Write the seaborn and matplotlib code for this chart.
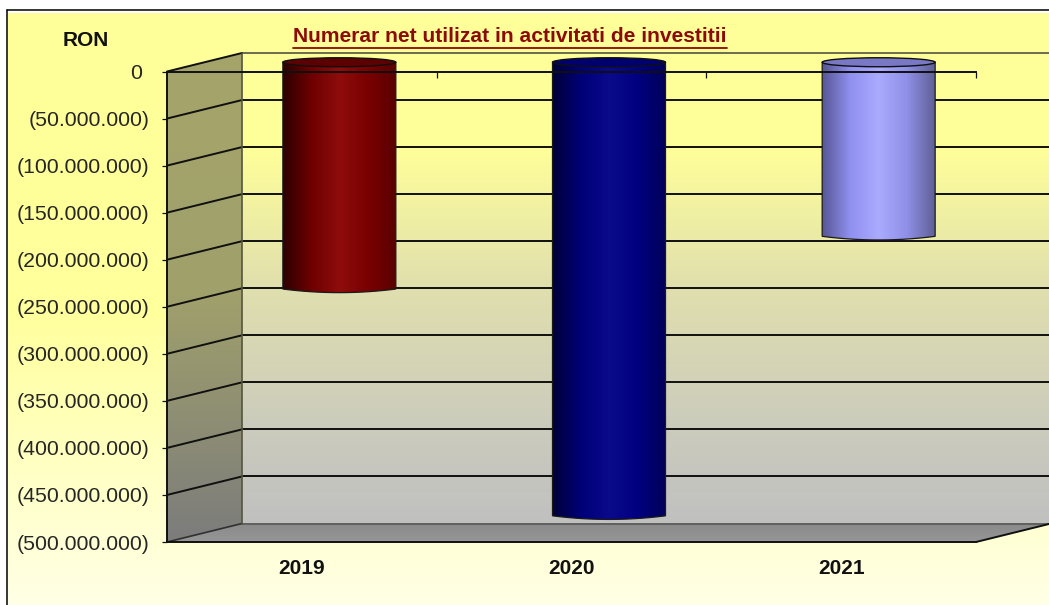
import numpy as np
import pandas as pd
import seaborn as sns
import matplotlib.pyplot as plt
from matplotlib.colors import LinearSegmentedColormap
from matplotlib.lines import Line2D
from matplotlib.patches import Ellipse, PathPatch, Polygon
from matplotlib.path import Path

years = ["2019", "2020", "2021"]
values = [-241000000, -482000000, -185000000]
y_ticks = [0, -50000000, -100000000, -150000000, -200000000, -250000000,
           -300000000, -350000000, -400000000, -450000000, -500000000]
y_labels = ["0 ", "(50.000.000)", "(100.000.000)", "(150.000.000)", "(200.000.000)",
            "(250.000.000)", "(300.000.000)", "(350.000.000)", "(400.000.000)",
            "(450.000.000)", "(500.000.000)"]
title = "Numerar net utilizat in activitati de investitii"
unit = "RON"

bar_colors = ["#8a0a0a", "#0a0a8c", "#a8a8ff"]
shades = [["#2c0000", "#6e0000", "#8f0c0c", "#7a0000", "#5a0000"],
          ["#000038", "#000078", "#0a0a8c", "#000080", "#000058"],
          ["#565696", "#9090f0", "#aaaaff", "#9090e8", "#606098"]]
lids = ["#5c0000", "#00006e", "#7878c4"]

# pixel sizes of the picture, the axes box sits on the front plane of the 3d box
W, H = 1049, 605
X0, X1, Y0, Y1 = 167, 976, 71.5, 542
# depth of the box, in data units
DX = 75 / ((X1 - X0) / 3)
DY = 18.5 / ((Y1 - Y0) / 500000000)
ELL = 4.5 / ((Y1 - Y0) / 500000000)

sns.set_theme(style="white")
plt.rcParams["font.family"] = ["Liberation Sans", "DejaVu Sans"]

fig = plt.figure(figsize=(W / 100, H / 100), dpi=100, facecolor="white")

# chart area background
bg = fig.add_axes([8 / W, 0, 1 - 8 / W, 1 - 13 / H])
bg.axis("off")
cmap = LinearSegmentedColormap.from_list("bg", ["#ffff99", "#ffff9c", "#ffffe6"])
bg.imshow(np.linspace(0, 1, 256).reshape(-1, 1), cmap=cmap, aspect="auto")
fig.add_artist(Line2D([6.5 / W, 6.5 / W], [0, 1 - 9.5 / H], color="black", lw=1.1))
fig.add_artist(Line2D([6.5 / W, 1], [1 - 9.5 / H, 1 - 9.5 / H], color="black", lw=1.1))

ax = fig.add_axes([X0 / W, 1 - Y1 / H, (X1 - X0) / W, (Y1 - Y0) / H])
ax.patch.set_visible(False)
df = pd.DataFrame({"year": years, "value": values})
sns.barplot(data=df, x="year", y="value", hue="year", palette=bar_colors, width=113 / ((X1 - X0) / 3),
            saturation=1, legend=False, ax=ax, zorder=1.5)

left, right = -0.5, 2.5
low, high = y_ticks[-1], y_ticks[0]


def fill(corners, stops, z):
    # gradient image clipped to a polygon
    corners = np.array(corners)
    grad = np.linspace(0, 1, 256).reshape(-1, 1)
    c = LinearSegmentedColormap.from_list("g", stops)
    extent = [corners[:, 0].min(), corners[:, 0].max(), corners[:, 1].min(), corners[:, 1].max()]
    im = ax.imshow(grad, cmap=c, extent=extent, aspect="auto", origin="upper", zorder=z)
    clip = Polygon(corners, closed=True, fc="none", ec="none", transform=ax.transData, clip_on=False)
    ax.add_patch(clip)
    im.set_clip_path(clip)
    im.set_clip_box(fig.bbox)


# back wall, side wall, floor
fill([(left + DX, low + DY), (right + DX, low + DY), (right + DX, high + DY), (left + DX, high + DY)],
     [(0, "#ffff99"), (0.2, "#ffff99"), (0.5, "#e0dfae"), (0.8, "#cbcbbd"), (1, "#c0c0c0")], 0.5)
fill([(left, low), (left + DX, low + DY), (left + DX, high + DY), (left, high)],
     ["#a5a56a", "#a0a06c", "#7c7c7c"], 0.6)
fill([(left, low), (right, low), (right + DX, low + DY), (left + DX, low + DY)],
     ["#8a8a8a", "#969696"], 0.6)

# gridlines, going round the side wall and along the back wall
for v in y_ticks:
    c = "#6c6c50" if v == high else "#101010"
    if v == low:
        c = "#606060"
    ax.plot([left + DX, right + DX], [v + DY, v + DY], color=c, lw=1.4, zorder=0.8, clip_on=False)
    if v != high and v != low:
        ax.plot([left, left + DX], [v, v + DY], color="#101010", lw=1.4, zorder=0.8)
ax.plot([left, left + DX], [high, high + DY], color="#101010", lw=1.4, zorder=0.8, clip_on=False)
ax.plot([left, left + DX], [low, low + DY], color="#303030", lw=1.2, zorder=0.8)
ax.plot([right, right + DX], [low, low + DY], color="#101010", lw=1.4, zorder=0.8, clip_on=False)
ax.plot([left + DX, left + DX], [low + DY, high + DY], color="#55553f", lw=1.2, zorder=0.8, clip_on=False)

# cylinders stand half way into the box
for bar, v, stops, lid in zip(ax.patches, values, shades, lids):
    x0 = bar.get_x() + DX / 2
    w = bar.get_width()
    xc = x0 + w / 2
    top = DY / 2
    end = v + DY / 2
    t = np.linspace(-1, 1, 80)
    arc_x = xc + t * w / 2
    arc_y = end - 0.8 * ELL * (1 - t ** 2)
    outline = np.vstack([[(x0, top)], np.column_stack([arc_x, arc_y]), [(x0 + w, top)], [(x0, top)]])
    bar.set_visible(False)
    im = ax.imshow(np.linspace(0, 1, 256).reshape(1, -1), cmap=LinearSegmentedColormap.from_list("c", stops),
                   extent=[x0, x0 + w, end - ELL, top], aspect="auto", zorder=1.6)
    clip = PathPatch(Path(outline, closed=True), fc="none", ec="#1a1a1a", lw=0.9, zorder=1.7, clip_on=False)
    ax.add_patch(clip)
    im.set_clip_path(clip)
    im.set_clip_box(fig.bbox)
    ax.add_patch(Ellipse((xc, top), w, 2 * ELL, fc=lid, ec="#101010", lw=1.0, zorder=1.8, clip_on=False))

ax.set_xlim(left, right)
ax.set_ylim(low, high)
ax.set_xlabel("")
ax.set_ylabel("")
ax.set_yticks(y_ticks)
ax.set_yticklabels(y_labels, fontsize=15.3, color="#262626")
ax.set_xticks(range(len(years)))
ax.set_xticklabels(years, fontsize=15, fontweight="bold", color="#111111")
ax.set_xticks([0.5, 1.5, 2.5], minor=True)
ax.set_axisbelow(False)
ax.tick_params(axis="y", left=True, length=3.6, width=0.9, color="#101010", pad=9.2)
ax.tick_params(axis="x", which="major", bottom=False, pad=6.2)
ax.tick_params(axis="x", which="minor", top=True, bottom=False, direction="in", length=4.3,
               width=0.9, color="#101010")
for side in ["top", "left", "bottom"]:
    ax.spines[side].set_visible(True)
    ax.spines[side].set_color("#101010")
    ax.spines[side].set_linewidth(1.4)
ax.spines["right"].set_visible(False)

fig.text(86 / W, 1 - 40 / H, unit, fontsize=15, fontweight="bold", color="#111111", ha="center", va="center")
tt = fig.text(510 / W, 1 - 36.5 / H, title, fontsize=15.14, fontweight="bold", color="#8b0a0a", ha="center", va="center")
box = tt.get_window_extent(fig.canvas.get_renderer())
fig.add_artist(Line2D([box.x0 / W, box.x1 / W], [1 - 47.5 / H, 1 - 47.5 / H], color="#8b0a0a", lw=1.3))

fig.savefig("out.png", dpi=100)
